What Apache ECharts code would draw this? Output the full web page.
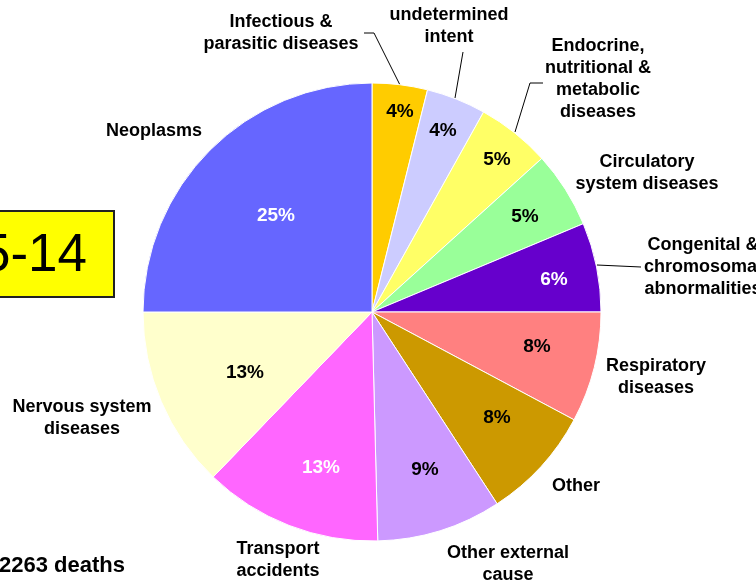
<!DOCTYPE html>
<html>
<head>
<meta charset="utf-8">
<script src="https://cdn.jsdelivr.net/npm/echarts@6/dist/echarts.min.js"></script>
<style>
  html, body { margin: 0; padding: 0; background: #fff; }
  #chart { width: 756px; height: 583px; }
</style>
</head>
<body>
<div id="chart"></div>
<script>
// ---- data ----
var categories = [
  'Infectious &\nparasitic diseases',
  'undetermined\nintent',
  'Endocrine,\nnutritional &\nmetabolic\ndiseases',
  'Circulatory\nsystem diseases',
  'Congenital &\nchromosomal\nabnormalities',
  'Respiratory\ndiseases',
  'Other',
  'Other external\ncause',
  'Transport\naccidents',
  'Nervous system\ndiseases',
  'Neoplasms'
];
var values = [3.9, 4.2, 5.2, 5.4, 6.3, 7.8, 8.0, 8.8, 12.6, 12.8, 25.0];
var ageGroup = '5-14';
var totalText = '2263 deaths';

// ---- styles / layout ----
var colors = ['#FFCC00', '#CCCCFF', '#FFFF66', '#99FF99', '#6600CC', '#FF8080',
              '#CC9900', '#CC99FF', '#FF66FF', '#FFFFCC', '#6666FF'];
var pctColors = ['#000', '#000', '#000', '#000', '#fff', '#000',
                 '#000', '#000', '#fff', '#000', '#fff'];
var pctPos = [[400, 112], [443, 131], [497, 160], [525, 217], [554, 280], [537, 347],
              [497, 418], [425, 470], [321, 468], [245, 373], [276, 216]];
var namePos = [[281, 33], [449, 26], [598, 79], [647, 173], [703, 267], [656, 377],
               [576, 486], [508, 564], [278, 560], [82, 418], [154, 131]];
var leaders = [
  [[401, 87], [374, 33], [364, 33]],
  [[455, 98], [463, 52]],
  [[515, 132], [530, 83], [543, 83]],
  null, [[597, 265], [641, 267]],
  null, null, null, null, null, null
];
var FONT = '"Liberation Sans", Arial, Helvetica, sans-serif';

var chart = echarts.init(document.getElementById('chart'), null, { renderer: 'canvas' });

var mainData = categories.map(function (c, i) {
  return { name: c, value: values[i], itemStyle: { color: colors[i] },
           label: { color: pctColors[i] } };
});
var nameData = categories.map(function (c, i) {
  return { name: c, value: values[i],
           labelLine: { show: !!leaders[i] } };
});

var option = {
  backgroundColor: '#fff',
  animation: false,
  series: [
    {
      type: 'pie',
      center: [372, 312],
      radius: 229,
      startAngle: 90,
      clockwise: true,
      avoidLabelOverlap: false,
      silent: true,
      itemStyle: { borderColor: '#fff', borderWidth: 1 },
      label: {
        show: true,
        position: 'inside',
        fontFamily: FONT,
        fontWeight: 'bold',
        fontSize: 19,
        formatter: function (p) { return Math.round(p.percent) + '%'; }
      },
      labelLine: { show: false },
      labelLayout: function (p) {
        var pos = pctPos[p.dataIndex];
        return { x: pos[0], y: pos[1], align: 'center', verticalAlign: 'middle' };
      },
      data: mainData
    },
    {
      type: 'pie',
      center: [372, 312],
      radius: 229,
      startAngle: 90,
      clockwise: true,
      avoidLabelOverlap: false,
      silent: true,
      itemStyle: { color: 'rgba(0,0,0,0)', borderWidth: 0 },
      label: {
        show: true,
        position: 'outside',
        fontFamily: FONT,
        fontWeight: 'bold',
        fontSize: 18,
        lineHeight: 22,
        color: '#000',
        align: 'center',
        formatter: '{b}'
      },
      labelLine: { show: false, lineStyle: { color: '#000', width: 1 }, smooth: false },
      labelLayout: function (p) {
        var pos = namePos[p.dataIndex];
        var r = { x: pos[0], y: pos[1], align: 'center', verticalAlign: 'middle' };
        if (leaders[p.dataIndex]) r.labelLinePoints = leaders[p.dataIndex];
        return r;
      },
      data: nameData
    }
  ],
  graphic: [
    {
      type: 'rect',
      shape: { x: -46, y: 211, width: 160, height: 86 },
      style: { fill: '#FFFF00', stroke: '#222', lineWidth: 2 },
      silent: true
    },
    {
      type: 'text',
      x: 87, y: 256,
      style: { text: ageGroup, fill: '#000', font: 'normal 53px ' + FONT,
               textAlign: 'right', textVerticalAlign: 'middle' },
      silent: true
    },
    {
      type: 'text',
      x: 125, y: 566,
      style: { text: totalText, fill: '#000', font: 'bold 22px ' + FONT,
               textAlign: 'right', textVerticalAlign: 'middle' },
      silent: true
    }
  ]
};
chart.setOption(option);
</script>
</body>
</html>
